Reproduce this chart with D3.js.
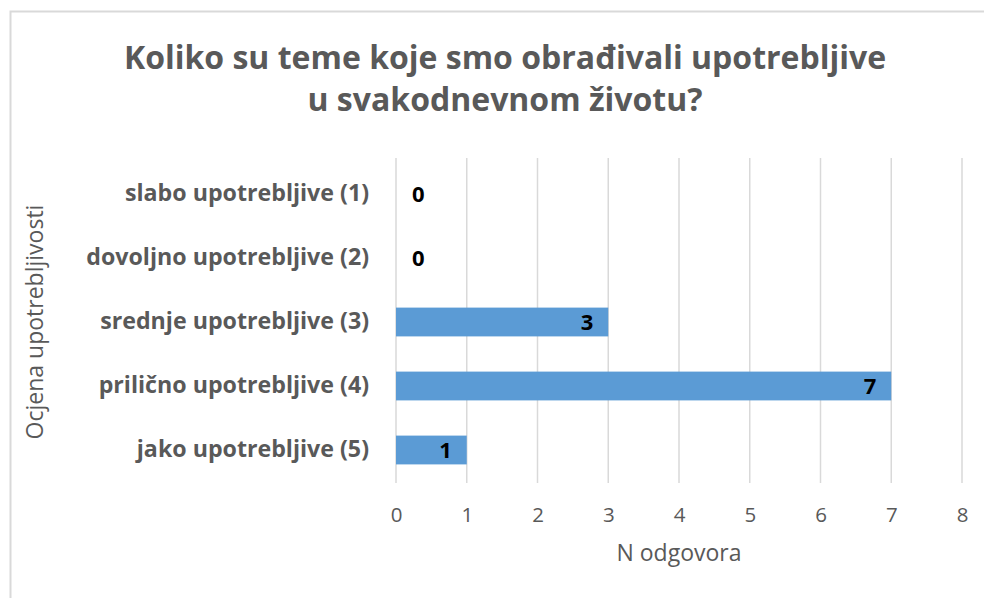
<!DOCTYPE html>
<html>
<head>
<meta charset="utf-8">
<script src="https://cdn.jsdelivr.net/npm/d3@7"></script>
<style>
    body { margin: 0; background: #fff; }
    svg { display: block; font-family: "Open Sans", "Noto Sans", sans-serif; }
</style>
</head>
<body>
<div id="container"></div>
<script>
const titleLines = ["Koliko su teme koje smo obrađivali upotrebljive", "u svakodnevnom životu?"]
const categories = ["slabo upotrebljive (1)", "dovoljno upotrebljive (2)", "srednje upotrebljive (3)", "prilično upotrebljive (4)", "jako upotrebljive (5)"]
const counts = [0, 0, 3, 7, 1]
const xTicks = [0, 1, 2, 3, 4, 5, 6, 7, 8]
const xTitle = "N odgovora"
const yTitle = "Ocjena upotrebljivosti"

const width = 984, height = 598
const plot = { left: 396, right: 962, top: 162, bottom: 482 }

const svg = d3.select("#container").append("svg")
    .attr("width", width)
    .attr("height", height)

// chart frame
svg.append("rect")
    .attr("x", 10.5).attr("y", 11.5)
    .attr("width", width).attr("height", height)
    .attr("fill", "none")
    .attr("stroke", "#d9d9d9")
    .attr("stroke-width", 2)

const x = d3.scaleLinear().domain([0, 8]).range([plot.left, plot.right])
const y = d3.scaleBand().domain(categories).range([plot.top, plot.bottom]).paddingInner(0.55).paddingOuter(0.275)

// gridlines
svg.append("g")
    .selectAll("line")
    .data(xTicks).enter()
    .append("line")
    .attr("x1", d => x(d)).attr("x2", d => x(d))
    .attr("y1", plot.top - 4).attr("y2", plot.bottom + 1)
    .attr("stroke", "#d9d9d9")
    .attr("stroke-width", 1.5)

// bars
svg.append("g")
    .selectAll("rect")
    .data(counts).enter()
    .append("rect")
    .attr("x", x(0))
    .attr("y", (d, i) => y(categories[i]))
    .attr("width", d => x(d) - x(0))
    .attr("height", y.bandwidth())
    .attr("fill", "#5b9bd5")

// value labels
svg.append("g")
    .selectAll("text")
    .data(counts).enter()
    .append("text")
    .attr("x", d => d === 0 ? x(0) + 16 : x(d) - 15)
    .attr("y", (d, i) => y(categories[i]) + y.bandwidth() / 2)
    .attr("dy", "0.36em")
    .attr("text-anchor", d => d === 0 ? "start" : "end")
    .attr("font-size", 22)
    .attr("font-weight", "bold")
    .attr("fill", "#000")
    .text(d => d)

// y axis (category labels)
const yAxis = svg.append("g")
    .attr("transform", `translate(${plot.left},0)`)
    .call(d3.axisLeft(y).tickSize(0).tickPadding(27))
yAxis.select(".domain").remove()
yAxis.selectAll("text")
    .attr("font-size", 23.2)
    .attr("font-weight", "bold")
    .attr("fill", "#595959")
    .attr("font-family", "'Open Sans', sans-serif")

// x axis
const xAxis = svg.append("g")
    .attr("transform", `translate(0,${plot.bottom})`)
    .call(d3.axisBottom(x).tickValues(xTicks).tickSize(0).tickPadding(25))
xAxis.select(".domain").remove()
xAxis.selectAll("text")
    .attr("font-size", 20.5)
    .attr("fill", "#595959")
    .attr("font-family", "'Open Sans', sans-serif")

// axis titles
svg.append("text")
    .attr("x", (plot.left + plot.right) / 2)
    .attr("y", 561)
    .attr("text-anchor", "middle")
    .attr("font-size", 23)
    .attr("fill", "#595959")
    .text(xTitle)

svg.append("text")
    .attr("transform", `translate(43,${(plot.top + plot.bottom) / 2}) rotate(-90)`)
    .attr("text-anchor", "middle")
    .attr("font-size", 23)
    .attr("fill", "#595959")
    .text(yTitle)

// title
svg.append("g")
    .selectAll("text")
    .data(titleLines).enter()
    .append("text")
    .attr("x", 505)
    .attr("y", (d, i) => 69 + i * 42)
    .attr("text-anchor", "middle")
    .attr("font-size", 32)
    .attr("font-weight", "bold")
    .attr("fill", "#595959")
    .text(d => d)
</script>
</body>
</html>
